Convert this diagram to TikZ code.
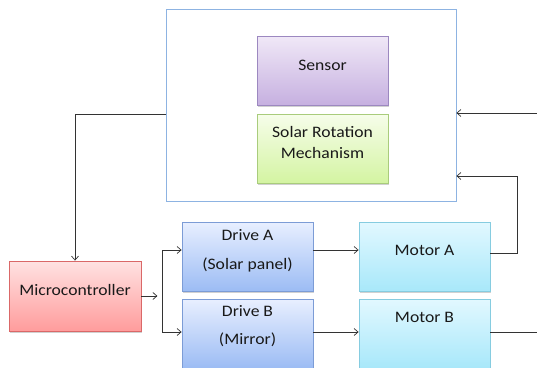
\documentclass[tikz,border=0pt]{standalone}
\usepackage{fontspec}
\setmainfont{Carlito}[FakeStretch=1.1]
\usetikzlibrary{arrows.meta,shadows}
\definecolor{outerc}{HTML}{8DB3E2}
\definecolor{senT}{HTML}{F0E8F7}\definecolor{senB}{HTML}{C6B0E0}\definecolor{senD}{HTML}{9C88C0}
\definecolor{solT}{HTML}{F6FDEA}\definecolor{solB}{HTML}{D4F4A2}\definecolor{solD}{HTML}{A9CC7C}
\definecolor{mcuT}{HTML}{FFE2E2}\definecolor{mcuB}{HTML}{FF9C9C}\definecolor{mcuD}{HTML}{DA6868}
\definecolor{drvT}{HTML}{E8EFFF}\definecolor{drvB}{HTML}{9CBCF4}\definecolor{drvD}{HTML}{7C9CD6}
\definecolor{motT}{HTML}{E2F8FF}\definecolor{motB}{HTML}{A8E8FA}\definecolor{motD}{HTML}{86CCE0}
\begin{document}
\begin{tikzpicture}[x=1pt,y=-1pt,
  blk/.style={minimum width=131pt,minimum height=69pt,inner sep=0pt,line width=0.8pt,
    drop shadow={shadow xshift=1pt,shadow yshift=-1.5pt,fill=black,opacity=0.18}},
  txt/.style={font=\fontsize{16}{19}\selectfont,inner sep=0pt,align=center,text=black!90},
  ln/.style={draw=black!80,line width=0.7pt},
  arr/.style={ln,-{Straight Barb[length=4pt,width=7pt]}}]
\clip (0,0) rectangle (537,367);
\node[draw=outerc,line width=0.8pt,minimum width=290pt,minimum height=192pt,inner sep=0pt] (unit) at (311,105) {};
\node[blk,draw=senD,top color=senT,bottom color=senB] (sen) at (322.5,70.5) {};
\node[blk,draw=solD,top color=solT,bottom color=solB] (sol) at (322.5,148.5) {};
\node[blk,draw=mcuD,top color=mcuT,bottom color=mcuB,minimum width=132pt,minimum height=70pt] (mcu) at (75,296) {};
\node[blk,draw=drvD,top color=drvT,bottom color=drvB] (drvA) at (247.5,256.5) {};
\node[blk,draw=drvD,top color=drvT,bottom color=drvB] (drvB) at (247.5,333.5) {};
\node[blk,draw=motD,top color=motT,bottom color=motB] (motA) at (424.5,256.5) {};
\node[blk,draw=motD,top color=motT,bottom color=motB] (motB) at (424.5,333.5) {};
\node[txt] (tsen) at (322.5,65) {Sensor};
\node[txt,text depth=0pt] (tsol) at (322.5,142) {Solar Rotation\\[2pt]Mechanism};
\node[txt] (tmcu) at (75,290) {Microcontroller};
\node[txt] (tdA1) at (247.5,235) {Drive A};
\node[txt] (tdA2) at (247.5,265) {(Solar panel)};
\node[txt] (tdB1) at (247.5,311) {Drive B};
\node[txt] (tdB2) at (247.5,340) {(Mirror)};
\node[txt] (tmA) at (424.5,250) {Motor A};
\node[txt] (tmB) at (424.5,317) {Motor B};
% connectors
\coordinate (in1) at (537,113);
\coordinate (bend1) at (517,176);
\coordinate (out2) at (537,332);
\coordinate (busT) at (162,250);
\coordinate (busB) at (162,332);
\draw[arr] (unit.west |- 0,114) -| (mcu.north);
\draw[arr] (in1) -- (unit.east |- in1);
\draw[arr] (motA.east |- 0,253) -| (bend1) -- (unit.east |- bend1);
\draw[arr] (mcu.east) -- ++(16,0);
\draw[ln] (busT) -- (busB);
\draw[arr] (busT) -- (drvA.west |- busT);
\draw[arr] (busB) -- (drvB.west |- busB);
\draw[arr] (drvA.east |- busT) -- (motA.west |- busT);
\draw[arr] (drvB.east |- busB) -- (motB.west |- busB);
\draw[ln] (motB.east |- out2) -- (out2);
\end{tikzpicture}
\end{document}
